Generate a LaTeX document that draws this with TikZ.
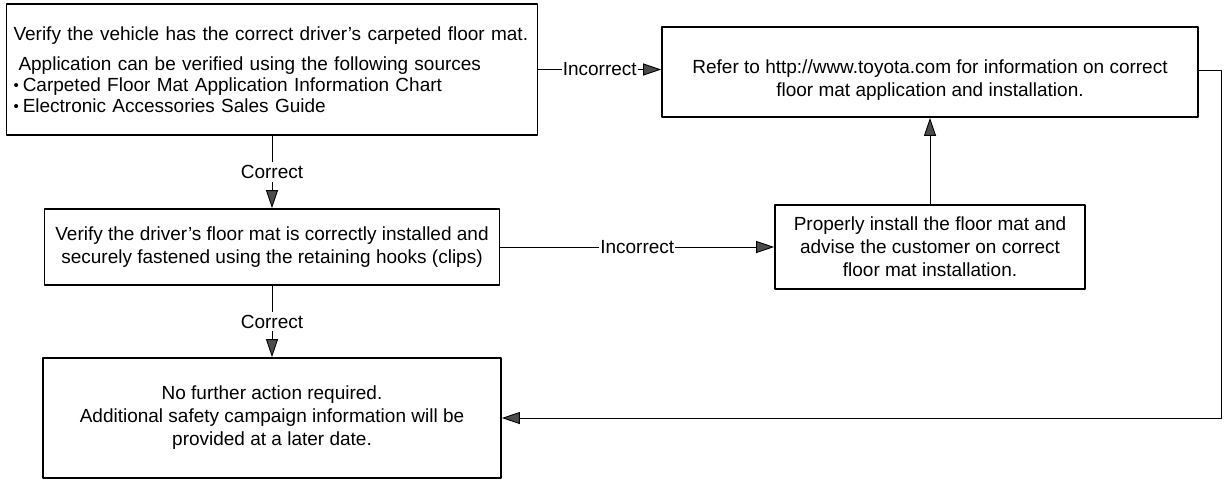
\documentclass[tikz,border=0pt]{standalone}
\usepackage{fontspec}
\setmainfont{Liberation Sans}
\usepackage{tikz}
\usetikzlibrary{arrows.meta,positioning}
\newcommand{\matfont}{\fontsize{19}{23}\selectfont}
\newcommand{\matdot}{\raisebox{0.5pt}{\fontsize{15}{15}\selectfont •}\hspace{4pt}}
\tikzset{
  every picture/.append style={line cap=round,line join=round},
  mat box/.style={draw,line width=1.7pt,align=center,inner sep=0pt,font=\matfont},
  mat flow/.style={line width=0.9pt,-{Triangle[length=18pt,width=12pt,fill=black!70]}},
  mat label/.style={fill=white,inner xsep=1pt,inner ysep=3pt,font=\matfont}
}
\begin{document}
\begin{tikzpicture}[x=1pt,y=-1pt]
\useasboundingbox (0,0) rectangle (1225,480);
\node[mat box,align=left,text width=517pt,minimum height=131pt,inner xsep=7pt,
  font=\fontsize{19}{21}\selectfont] (check) at (272,69.5)
  {Verify the vehicle has the correct driver's carpeted floor mat.\\[9pt]
   \hspace{5pt}Application can be verified using the following sources\\
   \matdot Carpeted Floor Mat Application Information Chart\\
   \matdot Electronic Accessories Sales Guide};
\node[mat box,minimum width=455pt,minimum height=76pt] (fasten) at (272,247)
  {Verify the driver's floor mat is correctly installed and\\
   securely fastened using the retaining hooks (clips)};
\node[mat box,minimum width=458pt,minimum height=120pt] (done) at (272,418)
  {No further action required.\\
   Additional safety campaign information will be\\
   provided at a later date.};
\node[mat box,minimum width=536pt,minimum height=90pt] (refer) at (930,72)
  {\rule{0pt}{30pt}Refer to http://www.toyota.com for information on correct\\
   floor mat application and installation.};
\node[mat box,minimum width=310pt,minimum height=84pt] (install) at (930,247)
  {Properly install the floor mat and\\
   advise the customer on correct\\
   floor mat installation.};
\coordinate (loop) at (1221,70);
\draw[mat flow] (check.south) -- node[mat label] {Correct} (fasten.north);
\draw[mat flow] (fasten.south) -- node[mat label] {Correct} (done.north);
\draw[mat flow] (check.east) -- node[mat label] {Incorrect} (refer.west |- check.east);
\draw[mat flow] (fasten.east) -- node[mat label] {Incorrect} (install.west);
\draw[mat flow] (install.north) -- (refer.south);
\draw[mat flow] (refer.east |- loop) -- (loop) |- (done.east);
\end{tikzpicture}
\end{document}
